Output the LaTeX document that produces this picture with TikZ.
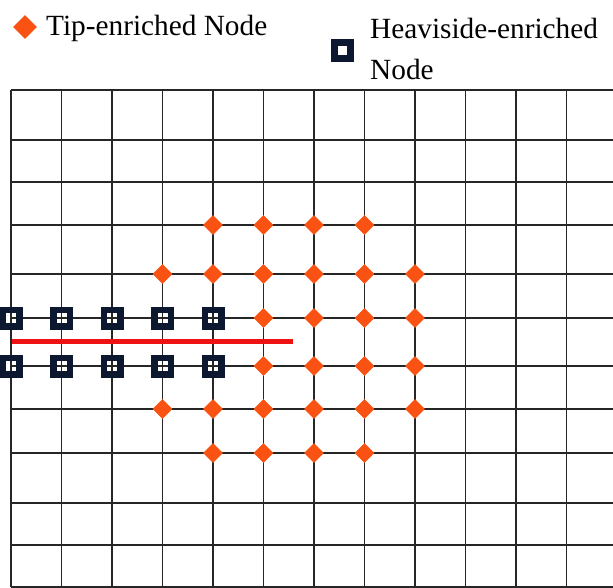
\documentclass[tikz,border=0pt]{standalone}
\usepackage{fontspec}
\setmainfont{Liberation Serif}
\usetikzlibrary{shapes.geometric}
\definecolor{tiporange}{RGB}{250,82,18}
\definecolor{hvnavy}{RGB}{12,24,48}
\definecolor{crackred}{RGB}{240,18,18}
\begin{document}
\begin{tikzpicture}[x=1pt,y=-1pt,
  gridline/.style={line width=1.8pt, color=black!85},
  tipnode/.style={diamond, fill=tiporange, inner sep=0pt, minimum width=20pt, minimum height=20pt},
  hvnode/.style={rectangle, draw=hvnavy, line width=6.5pt, inner sep=0pt, minimum size=16.5pt},
  crack/.style={line width=5.5pt, color=crackred},
  legendtext/.style={font=\fontsize{29.3}{41}\selectfont, inner sep=0pt, anchor=base west}]
\useasboundingbox (0,0) rectangle (613,588);

% mesh columns and rows
\foreach \x [count=\i] in {11,61.5,112,162.5,213,263.5,314,364.5,415,465.5,516,566.5}
  \coordinate (c\i) at (\x,0);
\coordinate (cR) at (613,0);
\foreach \y [count=\j] in {90,140,182,225,274,318,366,409,453,503,545,587}
  \coordinate (r\j) at (0,\y);

% mesh lines
\foreach \i in {1,...,12}
  \draw[gridline] (c\i |- r1) -- (c\i |- r12);
\foreach \j in {1,...,12}
  \draw[gridline] (r\j -| c1) -- (r\j -| cR);

% crack
\coordinate (crackstart) at (11.5,341.7);
\coordinate (cracktip) at (293,341.7);
\draw[crack] (crackstart) -- (cracktip);

% tip-enriched nodes
\foreach \j/\a/\b in {4/5/8, 5/4/9, 6/6/9, 7/6/9, 8/4/9, 9/5/8}
  \foreach \i in {\a,...,\b}
    \node[tipnode] (tip-\j-\i) at (c\i |- r\j) {};

% Heaviside-enriched nodes
\foreach \j in {6,7}
  \foreach \i in {1,...,5}
    \node[hvnode] (hv-\j-\i) at (c\i |- r\j) {};

% legend
\node[tipnode, minimum width=24pt, minimum height=24pt] (legtip) at (25,27) {};
\node[legendtext] (legtiptext) at (46,36) {Tip-enriched Node};
\node[hvnode, line width=7pt, minimum size=16pt] (leghv) at (342,51) {};
\node[legendtext] (leghvtext) at (370,39) {Heaviside-enriched};
\node[legendtext] (leghvtext2) at (370,80) {Node};
\end{tikzpicture}
\end{document}
